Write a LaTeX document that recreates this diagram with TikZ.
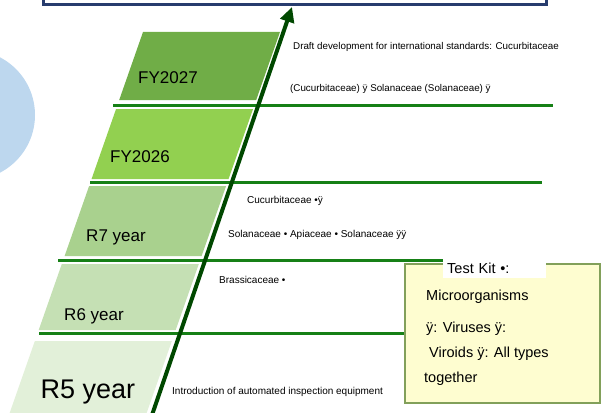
\documentclass[tikz,border=0pt]{standalone}
\usepackage{fontspec}
\setmainfont{Liberation Sans}
\usetikzlibrary{arrows.meta}
\usetikzlibrary{positioning}
\definecolor{bandA}{RGB}{112,173,71}
\definecolor{bandB}{RGB}{146,208,80}
\definecolor{bandC}{RGB}{169,209,142}
\definecolor{bandD}{RGB}{197,224,180}
\definecolor{bandE}{RGB}{226,240,217}
\definecolor{rulegreen}{RGB}{22,128,22}
\definecolor{arrowgreen}{RGB}{0,72,0}
\definecolor{navy}{RGB}{40,60,110}
\definecolor{skyblob}{RGB}{189,215,238}
\definecolor{kitfill}{RGB}{254,253,208}
\definecolor{kitedge}{RGB}{130,160,90}
\tikzset{yearlabel/.style = {font=\fontsize{17}{20}\selectfont, inner sep=0}}
\tikzset{note/.style = {font=\fontsize{10}{12}\selectfont, anchor=west, inner sep=0}}
\tikzset{kitline/.style = {font=\fontsize{14.5}{17}\selectfont, anchor=west, inner sep=0}}
\tikzset{yearrule/.style = {draw=rulegreen, line width=3pt}}
\tikzset{goalbox/.style = {draw=navy, fill=white, line width=3pt, inner sep=0}}

\begin{document}
\begin{tikzpicture}[x=1pt, y=-1pt]
    \useasboundingbox (0,0) rectangle (607,412);
    \fill [skyblob] (-30,115) circle [radius=65];
    \node [goalbox, minimum width=503pt, minimum height=30pt, anchor=south west] (goal) at (42,6) {};

    % slanted year bands
    \foreach \t/\b/\c in {32/100/bandA, 109/179/bandB, 186/256/bandC, 264/330/bandD, 341/420/bandE}
        \fill [\c] ({154.2-0.35*\t},\t) -- ({291.2-0.35*\t},\t) -- ({291.2-0.35*\b},\b) -- ({154.2-0.35*\b},\b) -- cycle;

    \draw [yearrule] (113,105) -- (553,105);
    \draw [yearrule] (90,182) -- (542,182);
    \draw [yearrule] (58,260) -- (450,260);
    \draw [yearrule] (39,333) -- (404,333);

    \coordinate (base) at (152,415);
    \coordinate (tip) at (292,7);
    \draw [arrowgreen, line width=4pt, -{Triangle[length=15pt, width=14pt]}] (base) -- (tip);

    \node [yearlabel] (fy27) at (168,78) {FY2027};
    \node [yearlabel] (fy26) at (140,157) {FY2026};
    \node [yearlabel] (r7) at (116,237) {R7 year};
    \node [yearlabel] (r6) at (94,316) {R6 year};
    \node [yearlabel, font=\fontsize{27}{30}\selectfont] (r5) at (88,392) {R5 year};

    \node [note, font=\fontsize{9.8}{12}\selectfont] (draft) at (293,47) {Draft development for international standards: Cucurbitaceae};
    \node [note, font=\fontsize{9.8}{12}\selectfont] (cucsol) at (290,89) {(Cucurbitaceae) ÿ Solanaceae (Solanaceae) ÿ};
    \node [note] (cuc) at (247,201) {Cucurbitaceae •ÿ};
    \node [note] (solapi) at (228,235) {Solanaceae • Apiaceae • Solanaceae ÿÿ};
    \node [note] (brass) at (219,280) {Brassicaceae •};
    \node [note] (intro) at (172,392) {Introduction of automated inspection equipment};

    % test kit box
    \node [draw=kitedge, fill=kitfill, line width=1.5pt, minimum width=195pt, minimum height=139pt, anchor=north west] (kit) at (404,263) {};
    \node [fill=white, anchor=west, text width=95pt, minimum height=20pt, inner xsep=4pt, inner ysep=0, font=\fontsize{14.5}{17}\selectfont] (kittitle) at (443,268) {Test Kit •:};
    \node [kitline] (micro) at (426,297) {Microorganisms};
    \node [kitline] (virus) at (426,329) {ÿ: Viruses ÿ:};
    \node [kitline] (viroid) at (429,354) {Viroids ÿ: All types};
    \node [kitline] (togeth) at (424,379) {together};
\end{tikzpicture}
\end{document}
